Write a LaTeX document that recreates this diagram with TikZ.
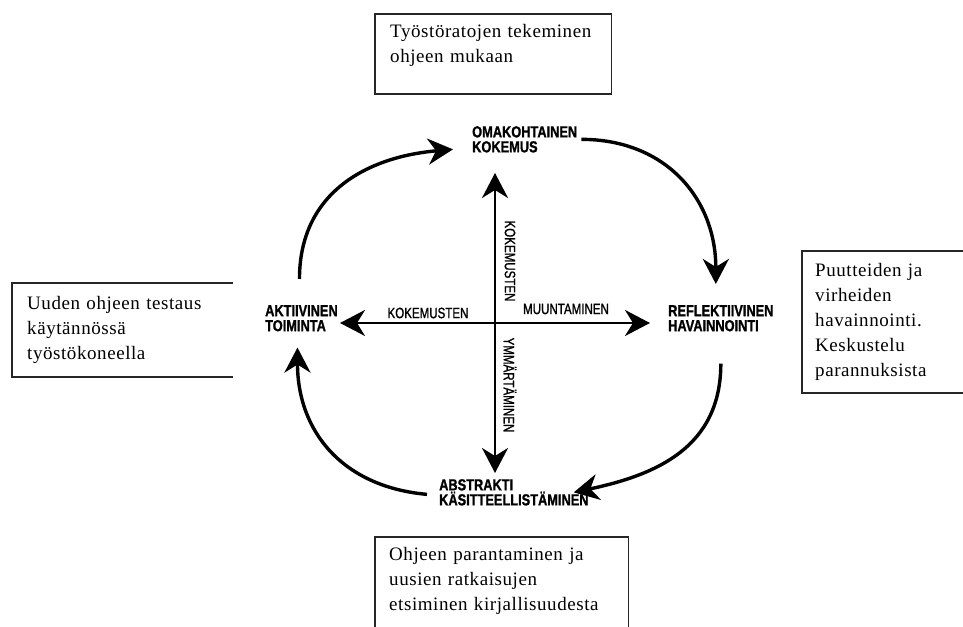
\documentclass[tikz,border=0pt]{standalone}
\usepackage{fontspec}
\setmainfont{Liberation Serif}[LetterSpace=3]
\newfontfamily\stagefont{Liberation Sans}[FakeStretch=0.80, FakeBold=1.2]
\newfontfamily\axisfont{Liberation Sans}[FakeStretch=0.77, FakeBold=1.2]
\usetikzlibrary{arrows.meta, positioning}

\begin{document}
\begin{tikzpicture}[x=1pt, y=1pt,
    note/.style={anchor=north west, align=left, inner xsep=15pt, font=\fontsize{19}{25}\selectfont},
    frame/.style={draw=black!85, line width=1.2pt},
    stage/.style={anchor=north west, inner sep=0pt, align=left, font=\stagefont\bfseries\fontsize{16}{15}\selectfont},
    axislabel/.style={inner sep=0pt, font=\axisfont\fontsize{15}{15}\selectfont},
    axis/.style={{Stealth[length=25pt, width=26pt, inset=8pt]}-{Stealth[length=25pt, width=26pt, inset=8pt]}, line width=2.6pt},
    cyclearrow/.style={-{Stealth[length=25pt, width=26pt, inset=8pt]}, line width=3.4pt, looseness=1.1}]

    \useasboundingbox (0,0) rectangle (963,626);

    % notes round the cycle
    \node[note, text width=206pt, inner ysep=10pt] (topnote) at (375,612) {Työstöratojen tekeminen\\ohjeen mukaan};
    \node[note, text width=191pt, inner ysep=13pt] (leftnote) at (12,343) {Uuden ohjeen testaus\\käytännössä\\työstökoneella};
    \node[note, text width=150pt, inner xsep=13pt, inner ysep=12pt] (rightnote) at (802,375) {Puutteiden ja\\virheiden\\havainnointi.\\Keskustelu\\parannuksista};
    \node[note, text width=225pt, inner xsep=14pt, inner ysep=10pt] (bottomnote) at (375,89) {Ohjeen parantaminen ja\\uusien ratkaisujen\\etsiminen kirjallisuudesta};

    \draw[frame] (topnote.north west) rectangle ([yshift=-80pt]topnote.north east);
    \draw[frame] (leftnote.north east) -- (leftnote.north west) -- ([yshift=-94pt]leftnote.north west) -- ([yshift=-94pt]leftnote.north east);
    \draw[frame] (rightnote.north west) rectangle ([yshift=-142pt]rightnote.north east);
    \draw[frame] (bottomnote.north west) rectangle ([yshift=-100pt]bottomnote.north east);

    % the four stages
    \node[stage] (exper) at (472,500) {OMAKOHTAINEN\\KOKEMUS};
    \node[stage] (activ) at (265,321) {AKTIIVINEN\\TOIMINTA};
    \node[stage] (refl) at (668,321) {REFLEKTIIVINEN\\HAVAINNOINTI};
    \node[stage] (abstr) at (439,147) {ABSTRAKTI\\KÄSITTEELLISTÄMINEN};

    % cross
    \coordinate (hub) at (495,303);
    \coordinate (upend) at (495,453);
    \coordinate (downend) at (495,153);
    \coordinate (leftend) at (340,303);
    \coordinate (rightend) at (650,303);
    \draw[axis] (downend) -- (upend);
    \draw[axis] (leftend) -- (rightend);

    \node[axislabel] (kokh) at (428,313) {KOKEMUSTEN};
    \node[axislabel] (muun) at (566,317) {MUUNTAMINEN};
    \node[axislabel, rotate=-90] (kokv) at (510,365) {KOKEMUSTEN};
    \node[axislabel, rotate=-90] (ymm) at (510,241) {YMMÄRTÄMINEN};

    % cycle
    \draw[cyclearrow] ([xshift=-2pt, yshift=26pt]activ.north) to[out=90, in=185] ([xshift=-19pt, yshift=-10pt]exper.west);
    \draw[cyclearrow] ([xshift=4pt]exper.east) to[out=0, in=90] ([xshift=-5pt, yshift=21pt]refl.north);
    \draw[cyclearrow] ([yshift=-32pt]refl.south) to[out=-90, in=12] ([xshift=-15pt]abstr.east);
    \draw[cyclearrow] ([xshift=-12pt, yshift=-2pt]abstr.west) to[out=175, in=-90] ([xshift=-4pt, yshift=-16pt]activ.south);
\end{tikzpicture}
\end{document}
